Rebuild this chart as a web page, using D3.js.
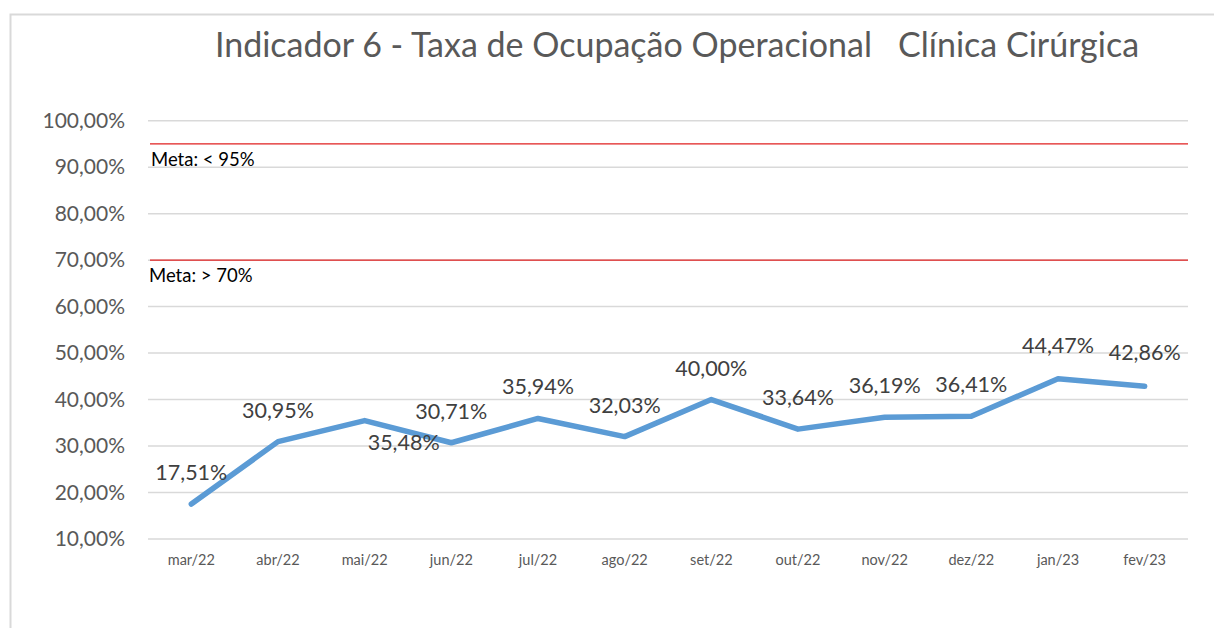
<!DOCTYPE html>
<html>
<head>
<meta charset="utf-8">
<script src="https://d3js.org/d3.v7.min.js"></script>
<style>
  body { margin: 0; background: #fff; }
  text { font-family: Lato, "Open Sans", sans-serif; }
</style>
</head>
<body>
<script>
// dados do gráfico
var meses = ["mar/22","abr/22","mai/22","jun/22","jul/22","ago/22","set/22","out/22","nov/22","dez/22","jan/23","fev/23"];
var taxa = [17.51, 30.95, 35.48, 30.71, 35.94, 32.03, 40.00, 33.64, 36.19, 36.41, 44.47, 42.86];
var yTicks = [10, 20, 30, 40, 50, 60, 70, 80, 90, 100];
var metas = [95, 70];
var metaLabels = ["Meta: < 95%", "Meta: > 70%"];

var w = 1214, h = 628;
var mLeft = 148, mRight = 1188, mTop = 120.7, mBottom = 539;

var svg = d3.select("body").append("svg").attr("width", w).attr("height", h);

// moldura
svg.append("path")
   .attr("d", "M10.5," + h + "V14.5H" + w)
   .attr("fill", "none").attr("stroke", "#d9d9d9").attr("stroke-width", 2);

var x = d3.scaleBand().domain(meses).range([mLeft, mRight]);
var y = d3.scaleLinear().domain([10, 100]).range([mBottom, mTop]);

var fmt = function(v){ return v.toFixed(2).replace(".", ",") + "%"; };

// grade
svg.append("g").selectAll("line").data(yTicks).enter().append("line")
   .attr("x1", mLeft).attr("x2", mRight)
   .attr("y1", function(d){ return y(d); }).attr("y2", function(d){ return y(d); })
   .attr("stroke", "#d9d9d9").attr("stroke-width", 1.5);

var yAxis = svg.append("g").attr("transform", "translate(" + 125 + ",0)")
   .call(d3.axisLeft(y).tickValues(yTicks).tickSize(0).tickPadding(0).tickFormat(fmt));
yAxis.select(".domain").remove();
yAxis.selectAll("text").attr("fill", "#595959").style("font-size", "21px").style("font-family", "Lato");

var xAxis = svg.append("g").attr("transform", "translate(0," + mBottom + ")")
   .call(d3.axisBottom(x).tickSize(0).tickPadding(16));
xAxis.select(".domain").remove();
xAxis.selectAll("text").attr("fill", "#595959").style("font-size", "14.5px").style("font-family", "Lato");

// linhas de meta
svg.append("g").selectAll("line").data(metas).enter().append("line")
   .attr("x1", mLeft + 2).attr("x2", mRight)
   .attr("y1", function(d){ return y(d); }).attr("y2", function(d){ return y(d); })
   .attr("stroke", "#e02020").attr("stroke-width", 1.2);

svg.append("g").selectAll("text").data(metas).enter().append("text")
   .attr("x", function(d, i){ return i == 0 ? 151 : 149; })
   .attr("y", function(d){ return y(d) + 22; })
   .attr("fill", "#000").style("font-size", "18.5px")
   .text(function(d, i){ return metaLabels[i]; });

// série
var line = d3.line()
   .x(function(d, i){ return x(meses[i]) + x.bandwidth() / 2; })
   .y(function(d){ return y(d); });

svg.append("path").datum(taxa)
   .attr("d", line)
   .attr("fill", "none").attr("stroke", "#5b9bd5").attr("stroke-width", 5.5)
   .attr("stroke-linecap", "round").attr("stroke-linejoin", "round");

// rótulos
svg.append("g").selectAll("text").data(taxa).enter().append("text")
   .attr("x", function(d, i){ return x(meses[i]) + x.bandwidth() / 2 + (i == 2 ? 39 : 0); })
   .attr("y", function(d, i){ return y(d) + (i == 2 ? 29 : (i >= 10 ? -26 : -24)); })
   .attr("text-anchor", "middle")
   .attr("fill", "#404040").style("font-size", "21.5px")
   .text(fmt);

// título
svg.append("text")
   .attr("x", 677).attr("y", 57)
   .attr("text-anchor", "middle")
   .attr("fill", "#595959").style("font-size", "34px")
   .attr("xml:space", "preserve")
   .style("white-space", "pre")
   .text("Indicador 6 - Taxa de Ocupação Operacional   Clínica Cirúrgica");
</script>
</body>
</html>
